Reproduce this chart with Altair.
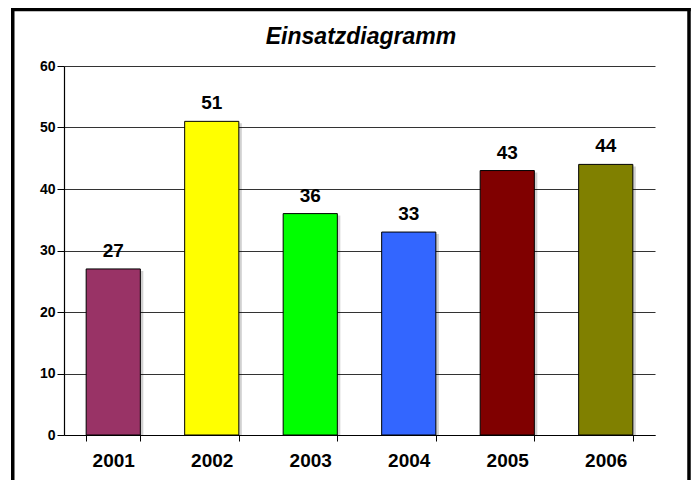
import altair as alt
import pandas as pd

years = ["2001", "2002", "2003", "2004", "2005", "2006"]
values = [27, 51, 36, 33, 43, 44]
colors = ["#993366", "#FFFF00", "#00FF00", "#3366FF", "#800000", "#808000"]
y_ticks = [0, 10, 20, 30, 40, 50, 60]
title_text = "Einsatzdiagramm"

df = pd.DataFrame({"year": years, "value": values})
FONT = "Liberation Sans"

x = alt.X(
    "year:N", sort=years,
    scale=alt.Scale(paddingInner=0.45, paddingOuter=0.225),
    axis=alt.Axis(title=None, labelAngle=0, labelFontSize=19, labelFontWeight="bold",
                  labelColor="black", labelFont=FONT, labelPadding=10,
                  tickBand="extent", tickSize=6, tickColor="black",
                  domainColor="black", domainWidth=1.2),
)
y = alt.Y(
    "value:Q", scale=alt.Scale(domain=[0, 60]),
    axis=alt.Axis(title=None, values=y_ticks, grid=True, gridColor="#333333", gridWidth=1,
                  labelFontSize=14, labelFontWeight="bold", labelColor="black", labelFont=FONT,
                  tickSize=7, tickColor="black", labelPadding=2,
                  domainColor="black", domainWidth=1.2),
)

base = alt.Chart(df)
shadow = base.mark_bar(color="black", opacity=0.18, xOffset=3, yOffset=2, clip=True).encode(x=x, y=y)
bars = base.mark_bar(stroke="black", strokeWidth=1).encode(
    x=x, y=y,
    color=alt.Color("year:N", scale=alt.Scale(domain=years, range=colors), legend=None),
)
labels = base.mark_text(dy=-8, baseline="bottom", fontSize=19, fontWeight="bold",
                        font=FONT, color="black").encode(x=x, y=y, text="value:Q")

one = alt.Data(values=[{"t": title_text}])
title = alt.Chart(one).mark_text(
    fontSize=23, fontWeight="bold", fontStyle="italic", font=FONT, color="black",
    baseline="alphabetic", align="center"
).encode(x=alt.value(297), y=alt.value(-22), text="t:N")

bw = 3.5
left = alt.Chart(one).mark_rule(color="black", strokeWidth=bw).encode(
    x=alt.value(-51.25), y=alt.value(-58.25), y2=alt.value(440))
top = alt.Chart(one).mark_rule(color="black", strokeWidth=bw).encode(
    y=alt.value(-56.5), x=alt.value(-53), x2=alt.value(626.75))
right = alt.Chart(one).mark_rule(color="black", strokeWidth=bw).encode(
    x=alt.value(625), y=alt.value(-58.25), y2=alt.value(440))

chart = alt.layer(shadow, bars, labels, title, left, top, right).properties(
    width=591, height=369,
    autosize="none",
    padding={"left": 56, "top": 58, "right": 36, "bottom": 45},
).configure_view(stroke=None)

chart.save("out.html", embed_options={"renderer": "svg", "actions": False})
